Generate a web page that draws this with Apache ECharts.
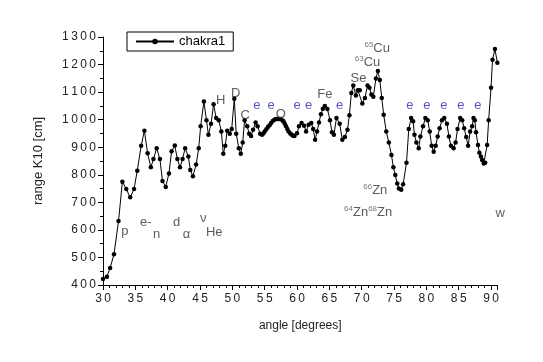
<!DOCTYPE html>
<html><head><meta charset="utf-8">
<script src="https://cdn.jsdelivr.net/npm/echarts@6/dist/echarts.min.js"></script>
<style>html,body{margin:0;padding:0;background:#fff}#c{width:543px;height:362px}</style>
</head><body><div id="c"></div>
<script>
const angles = [30.0,30.6,31.1,31.7,32.4,33.0,33.6,34.2,34.8,35.3,35.9,36.4,36.9,37.4,37.8,38.3,38.8,39.2,39.7,40.2,40.6,41.1,41.5,41.9,42.3,42.7,43.2,43.5,43.9,44.4,44.8,45.1,45.6,46.0,46.3,46.7,47.1,47.5,47.9,48.3,48.6,48.9,49.2,49.6,49.9,50.3,50.6,51.0,51.3,51.6,51.9,52.3,52.6,52.9,53.2,53.6,53.9,54.3,54.6,54.8,55.0,55.25,55.5,55.75,56.0,56.25,56.5,56.75,57.0,57.25,57.5,57.75,57.9,58.1,58.3,58.5,58.7,58.95,59.2,59.4,59.6,60.0,60.3,60.7,61.1,61.4,61.8,62.2,62.5,62.8,63.1,63.4,63.7,64.0,64.3,64.7,65.1,65.4,65.7,66.1,66.6,67.0,67.4,67.8,68.1,68.4,68.7,69.1,69.4,69.7,70.1,70.5,70.9,71.2,71.5,71.8,72.2,72.5,72.8,73.1,73.4,73.8,74.2,74.6,74.9,75.2,75.5,75.75,76.11,76.41,76.93,77.28,77.64,77.95,78.16,78.46,78.82,79.08,79.49,79.85,80.21,80.52,80.82,81.13,81.44,81.75,82.05,82.41,82.77,83.18,83.49,83.80,84.21,84.52,84.82,85.23,85.54,85.85,86.16,86.46,86.77,87.08,87.29,87.49,87.68,87.98,88.20,88.43,88.62,88.88,89.10,89.40,89.63,90.00,90.23,90.60,90.98];
const ranges = [422,430,462,512,632,775,748,718,748,815,905,960,878,827,857,896,857,777,756,805,885,906,857,827,857,896,866,817,795,837,896,976,1066,998,945,985,1056,1006,998,957,876,905,960,949,966,1076,949,896,876,917,998,976,949,941,963,990,976,949,945,950,957,965,973,980,988,995,1000,1002,1002,1002,1002,997,994,985,976,966,957,950,945,942,941,951,976,988,978,957,982,988,966,927,957,990,1020,1040,1050,1039,998,954,945,1006,985,927,937,963,1016,1097,1124,1088,1107,1107,1059,1079,1124,1116,1091,1083,1149,1177,1144,1079,1018,957,917,872,827,799,768,750,746,766,844,966,1006,994,945,917,896,939,976,1006,998,957,905,884,905,939,969,998,1006,985,939,905,896,917,966,1006,998,969,937,905,957,976,1006,998,954,908,880,866,854,841,844,908,998,1116,1217,1256,1207];

const xTicks = [30,35,40,45,50,55,60,65,70,75,80,85,90];
const yTicks = [400,500,600,700,800,900,1000,1100,1200,1300];

// annotations: [angle, value, text]
const noteAngles = [33.4,36.6,38.3,41.4,42.9,45.5,47.2,48.2,50.5,52.0,53.8,56.0,57.5,60.0,61.8,64.3,66.6,69.5,70.9,72.4,72.1,71.0,77.45,80.08,82.71,85.33,87.96,91.4];
const noteValues = [593,626,582,626,582,640,590,1071,1097,1017,1053,1053,1020,1053,1053,1093,1053,1148,1207,1258,743,663,1053,1053,1053,1053,1053,659];
const noteTexts = ['p','e-','n','d','\u03b1','\u03bd','He','H','D','C','e','e','O','e','e','Fe','e','Se','{s|63}{m|Cu}','{s|65}{m|Cu}','{s|66}{m|Zn}','{s|64}{m|Zn}{s|68}{m|Zn}','e','e','e','e','e','w'];

const font = 'Liberation Sans, Arial, sans-serif';
const spaced = s => String(s).split('').join('\u2009');
const chart = echarts.init(document.getElementById('c'));
const lineData = angles.map((a,i)=>[a, ranges[i]]);
const noteData = noteAngles.map((a,i)=>({value:[a, noteValues[i]], name:noteTexts[i],
  label:{color: noteTexts[i]==='e' ? '#2a2ab8' : '#333'}}));

chart.setOption({
  animation:false,
  backgroundColor:'#fff',
  grid:{left:103, right:45.5, top:37, bottom:77},
  legend:{left:127, top:32, data:['chakra1'], borderColor:'#000', borderWidth:1, padding:[3,8,3,8],
    itemWidth:38, itemHeight:7, textStyle:{fontFamily:font, fontSize:13, color:'#000'}},
  xAxis:{type:'value', min:30, max:91, interval:5,
    name:'angle [degrees]', nameLocation:'middle', nameGap:35,
    nameTextStyle:{fontFamily:font, fontSize:12, color:'#222'},
    axisLine:{lineStyle:{color:'#000', width:1}},
    axisTick:{inside:false, length:5, lineStyle:{color:'#000'}},
    minorTick:{show:true, splitNumber:5, length:3, lineStyle:{color:'#000'}},
    splitLine:{show:false},
    axisLabel:{fontFamily:font, fontSize:12, color:'#222', margin:8,
      formatter:v=> xTicks.includes(v) ? spaced(v) : ''}},
  yAxis:{type:'value', min:400, max:1300, interval:100,
    name:'range K10 [cm]', nameLocation:'middle', nameGap:58,
    nameTextStyle:{fontFamily:font, fontSize:13, color:'#222'},
    axisLine:{show:true, lineStyle:{color:'#000', width:1}},
    axisTick:{show:true, inside:false, length:5, lineStyle:{color:'#000'}},
    minorTick:{show:true, splitNumber:2, length:3, lineStyle:{color:'#000'}},
    splitLine:{show:false},
    axisLabel:{fontFamily:font, fontSize:12, color:'#222', margin:7,
      formatter:v=> yTicks.includes(v) ? spaced(v) : ''}},
  series:[
    {name:'chakra1', type:'line', data:lineData, symbol:'circle', symbolSize:4.5, showSymbol:true,
      clip:false, lineStyle:{color:'#000', width:1}, itemStyle:{color:'#000'}, z:3},
    {name:'notes', type:'scatter', data:noteData, symbolSize:0, silent:true, z:4, clip:false,
      label:{show:true, position:'inside', formatter:p=>p.name, fontFamily:font, fontSize:13,
        rich:{s:{fontSize:8, color:'#555', fontFamily:font, padding:[0,0,8,0]},
              m:{fontSize:13, color:'#333', fontFamily:font}}}}
  ]
});
</script></body></html>
